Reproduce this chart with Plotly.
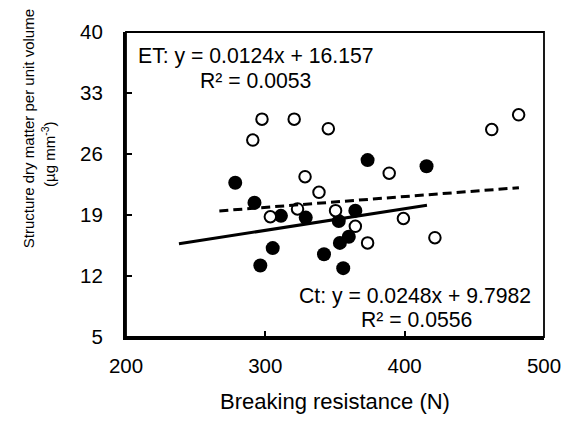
import plotly.graph_objects as go

# ---- data ----
ct_x = [278.4, 292.2, 311.2, 329.0, 352.7, 364.6, 359.9, 353.5, 305.3, 296.4, 342.1, 355.9, 373.4, 415.7]
ct_y = [22.7, 20.4, 18.9, 18.7, 18.3, 19.5, 16.5, 15.8, 15.2, 13.2, 14.5, 12.9, 25.3, 24.6]

et_x = [297.6, 320.7, 291.0, 345.2, 481.8, 462.5, 328.5, 338.5, 388.9, 303.6, 323.1, 350.4, 364.6, 373.4, 399.1, 421.7]
et_y = [30.0, 30.0, 27.6, 28.9, 30.5, 28.8, 23.4, 21.6, 23.8, 18.8, 19.7, 19.5, 17.7, 15.8, 18.6, 16.4]

ct_slope, ct_intercept = 0.0248, 9.7982
et_slope, et_intercept = 0.0124, 16.157
ct_line_x = [238, 416]
et_line_x = [267, 482]

x_ticks = [200, 300, 400, 500]
y_ticks = [5, 12, 19, 26, 33, 40]

ct_line_y = [ct_slope * v + ct_intercept for v in ct_line_x]
et_line_y = [et_slope * v + et_intercept for v in et_line_x]

FONT = "Liberation Sans, Arial, sans-serif"

fig = go.Figure()
fig.add_trace(go.Scatter(x=ct_x, y=ct_y, mode="markers",
                         marker=dict(symbol="circle", size=14, color="black",
                                     line=dict(width=0)),
                         showlegend=False))
fig.add_trace(go.Scatter(x=et_x, y=et_y, mode="markers",
                         marker=dict(symbol="circle", size=11.5, color="white",
                                     line=dict(width=2, color="black")),
                         showlegend=False))
fig.add_trace(go.Scatter(x=ct_line_x, y=ct_line_y, mode="lines",
                         line=dict(color="black", width=3), showlegend=False))
fig.add_trace(go.Scatter(x=et_line_x, y=et_line_y, mode="lines",
                         line=dict(color="black", width=3, dash="9px,5px"),
                         showlegend=False))

# page body has an 8px margin, so the figure is laid out 8px smaller
OFF = 8
W, H = 573 - OFF, 423 - OFF
L, R, T, B = 117.5, 28, 24, 77.8
pw, ph = W - L - R, H - T - B

def px(x):
    return (x - OFF - L) / pw

def py(y):
    return (H - B - (y - OFF)) / ph

def note(text, x, y, size, angle=0):
    return dict(text=text, x=px(x), y=py(y), xref="paper", yref="paper",
                showarrow=False, xanchor="center", yanchor="middle", textangle=angle,
                font=dict(size=size, color="black", family=FONT))

ann = [
    note("ET: y = 0.0124x + 16.157", 256, 57, 21.2),
    note("R² = 0.0053", 255, 82, 21.2),
    note("Ct: y = 0.0248x + 9.7982", 416, 303, 21.2),
    note("R² = 0.0556", 417, 327, 21.2),
    note("Structure dry matter per unit volume", 28, 131, 15, -90),
    note("(µg mm<sup>-3</sup>)", 47.5, 158, 15, -90),
]

fig.update_layout(
    width=W, height=H,
    margin=dict(l=L, r=R, t=T, b=B),
    paper_bgcolor="white", plot_bgcolor="white",
    annotations=ann,
    font=dict(family=FONT, color="black"),
    shapes=[dict(type="rect", xref="paper", yref="paper", x0=0, x1=1, y0=0, y1=1,
                 line=dict(color="black", width=1.8), layer="below")],
    xaxis=dict(range=[200, 500], tickvals=x_ticks, ticks="inside", ticklen=6, tickwidth=2,
               tickcolor="black", showgrid=False, zeroline=False, showline=True,
               linecolor="black", linewidth=3,
               tickfont=dict(size=20.5, family=FONT, color="black"),
               ticklabelstandoff=8,
               title=dict(text="Breaking resistance (N)", font=dict(size=22, family=FONT, color="black"),
                          standoff=19)),
    yaxis=dict(range=[5, 40], tickvals=y_ticks, ticks="inside", ticklen=6, tickwidth=2,
               tickcolor="black", showgrid=False, zeroline=False, showline=True,
               linecolor="black", linewidth=3,
               tickfont=dict(size=20.5, family=FONT, color="black"),
               ticklabelstandoff=16),
)

fig.write_html("out.html")
